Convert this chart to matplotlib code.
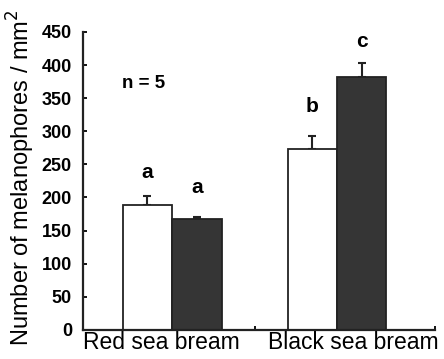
import matplotlib
matplotlib.use("Agg")
import matplotlib.pyplot as plt
import numpy as np

plt.rcParams["font.family"] = ["Liberation Sans", "DejaVu Sans"]

# Données
species = ["Red sea bream", "Black sea bream"]
white_vals = [189, 273]
white_err = [13, 20]
dark_vals = [168, 382]
dark_err = [2.5, 21]
white_letters = ["a", "b"]
dark_letters = ["a", "c"]
white_letter_y = [237, 337]
dark_letter_y = [215, 435]
yticks = [0, 50, 100, 150, 200, 250, 300, 350, 400, 450]

fig = plt.figure(figsize=(4.44, 3.59), dpi=100)
ax = fig.add_axes([0.187, 0.081, 0.793, 0.830])

x = np.arange(len(species))
w = 0.30
ax.bar(x - w / 2, white_vals, w, color="white", edgecolor="#222222", linewidth=1.3, zorder=2)
ax.bar(x + w / 2, dark_vals, w, color="#353535", edgecolor="#222222", linewidth=1.3, zorder=2)
ax.errorbar(x - w / 2, white_vals, yerr=[np.zeros(2), white_err], fmt="none",
            ecolor="#222222", elinewidth=1.5, capsize=3, capthick=1.5, zorder=1)
ax.errorbar(x + w / 2, dark_vals, yerr=[np.zeros(2), dark_err], fmt="none",
            ecolor="#222222", elinewidth=1.5, capsize=3, capthick=1.5, zorder=1)

for xi, lab, yy in zip(x - w / 2, white_letters, white_letter_y):
    ax.text(xi, yy, lab, ha="center", va="center", fontsize=15, fontweight="bold")
for xi, lab, yy in zip(x + w / 2, dark_letters, dark_letter_y):
    ax.text(xi, yy, lab, ha="center", va="center", fontsize=15, fontweight="bold")

ax.text(-0.17, 372, "n = 5", ha="center", va="center", fontsize=13.5, fontweight="bold")

ax.set_xlim(-0.54, 1.595)
ax.set_ylim(0, 450)
ax.set_yticks(yticks)
ax.set_yticklabels([str(t) for t in yticks], fontsize=13, fontweight="bold")
ax.tick_params(axis="y", direction="in", length=3, width=1.3, pad=8)

# graduations x aux limites des groupes, étiquettes décalées comme l'original
ax.set_xticks([0.5, 1.595])
ax.set_xticklabels(["", ""])
ax.set_xticks([-0.067, 1.10], minor=True)
ax.set_xticklabels(species, minor=True, fontsize=16.5)
ax.tick_params(axis="x", which="major", direction="in", length=3, width=1.3)
ax.tick_params(axis="x", which="minor", length=0, pad=1)

for s in ["top", "right"]:
    ax.spines[s].set_visible(False)
for s in ["left", "bottom"]:
    ax.spines[s].set_linewidth(1.6)
    ax.spines[s].set_color("#222222")

fig.text(0.047, 0.505, "Number of melanophores / mm$^2$", rotation=90,
         ha="center", va="center", fontsize=17)

fig.savefig("out.png", dpi=100)
